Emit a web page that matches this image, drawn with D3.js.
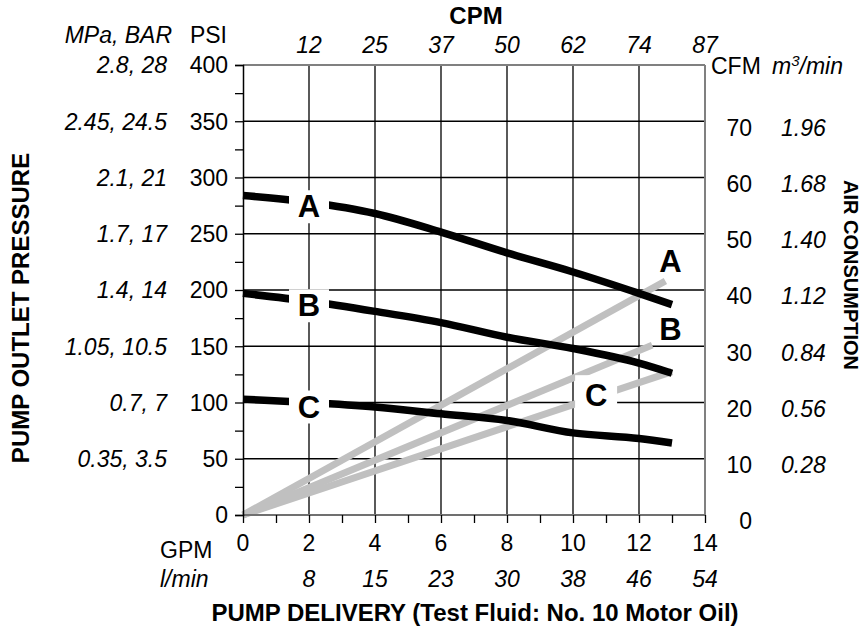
<!DOCTYPE html>
<html>
<head>
<meta charset="utf-8">
<script src="https://cdn.jsdelivr.net/npm/d3@7"></script>
<style>
  html, body { margin: 0; padding: 0; background: #fff; }
  svg { display: block; font-family: "Liberation Sans", Arial, sans-serif; }
</style>
</head>
<body>
<svg id="chart" width="862" height="629"></svg>
<script>
// Pump flow (GPM) sample points for the pressure curves
const flowPoints = [0, 2, 4, 6, 8, 10, 12, 13];
// Pump outlet pressure (PSI) for air inlet settings A, B, C
const pressureA = [284, 278, 268, 251.5, 233, 216, 197, 187];
const pressureB = [197, 190, 181, 171, 158, 148, 135, 126];
const pressureC = [103, 100, 96, 90, 84, 73, 68, 64];
// Air consumption (GPM, CFM) lines for A, B, C
const airA = [[0, 0], [12.8, 41.6]];
const airB = [[0, 0], [12.4, 30.2]];
const airC = [[0, 0], [13.0, 25.5]];
// Where the air-consumption letters sit (GPM, CFM)
const airLabelA = [12.95, 45.2];
const airLabelB = [12.95, 33.1];
const airLabelC = [10.7, 21.3];

// Axis ticks and paired unit labels
const gpmTicks = [0, 2, 4, 6, 8, 10, 12, 14];
const lpmLabels = ["", "8", "15", "23", "30", "38", "46", "54"];
const cpmLabels = ["", "12", "25", "37", "50", "62", "74", "87"];
const psiTicks = [0, 50, 100, 150, 200, 250, 300, 350, 400];
const mpaLabels = ["", "0.35, 3.5", "0.7, 7", "1.05, 10.5", "1.4, 14", "1.7, 17", "2.1, 21", "2.45, 24.5", "2.8, 28"];
const cfmTicks = [0, 10, 20, 30, 40, 50, 60, 70];
const m3Labels = ["", "0.28", "0.56", "0.84", "1.12", "1.40", "1.68", "1.96"];

const svg = d3.select("#chart");
const plotL = 243, plotR = 705, plotT = 65, plotB = 515;

const x = d3.scaleLinear().domain([0, 14]).range([plotL, plotR]);
const y = d3.scaleLinear().domain([0, 400]).range([plotB, plotT]);
const yAir = d3.scaleLinear().domain([0, 80]).range([plotB, plotT]);

const FS = 23;       // tick label size
const TITLE = 24;    // bold axis titles
const LBL = 31;      // curve letters

// Grid
const grid = svg.append("g");
grid.selectAll("line.v").data(gpmTicks.filter(d => d > 0 && d < 14)).join("line")
  .attr("class", "v")
  .attr("x1", d => x(d)).attr("x2", d => x(d))
  .attr("y1", plotT).attr("y2", plotB)
  .attr("stroke", "#000").attr("stroke-width", 1.3);
grid.selectAll("line.h").data(psiTicks.filter(d => d > 0 && d < 400)).join("line")
  .attr("class", "h")
  .attr("x1", plotL).attr("x2", plotR)
  .attr("y1", d => y(d)).attr("y2", d => y(d))
  .attr("stroke", "#000").attr("stroke-width", 1.3);

// Air consumption lines
const airLine = d3.line().x(d => x(d[0])).y(d => yAir(d[1]));
[airA, airB, airC].forEach(s => {
  svg.append("path").datum(s).attr("d", airLine)
    .attr("fill", "none").attr("stroke", "#c0c0c0").attr("stroke-width", 7);
});

// Pressure curves
const pLine = d3.line().x(d => x(d[0])).y(d => y(d[1])).curve(d3.curveMonotoneX);
const curves = [pressureA, pressureB, pressureC].map(vals => flowPoints.map((f, i) => [f, vals[i]]));
curves.forEach(c => {
  svg.append("path").datum(c).attr("d", pLine)
    .attr("fill", "none").attr("stroke", "#000").attr("stroke-width", 7.5);
});

// Letter labels on the pressure curves (at 2 GPM) with white backing
const letters = ["A", "B", "C"];
curves.forEach((c, i) => {
  const cx = x(c[1][0]), cy = y(c[1][1]) + 4;
  svg.append("rect").attr("x", cx - 20).attr("y", cy - 16).attr("width", 40).attr("height", 33).attr("fill", "#fff");
  svg.append("text").attr("x", cx).attr("y", cy).attr("dy", "0.36em")
    .attr("text-anchor", "middle").attr("font-weight", "bold").attr("font-size", LBL).text(letters[i]);
});

// Letter labels on the air consumption lines
[airLabelA, airLabelB, airLabelC].forEach((p, i) => {
  const cx = x(p[0]), cy = yAir(p[1]);
  if (i === 2) {
    svg.append("rect").attr("x", cx - 21).attr("y", cy - 20).attr("width", 42).attr("height", 40).attr("fill", "#fff");
  }
  svg.append("text").attr("x", cx).attr("y", cy).attr("dy", "0.36em")
    .attr("text-anchor", "middle").attr("font-weight", "bold").attr("font-size", LBL).text(letters[i]);
});

// Frame
svg.append("line").attr("x1", plotL).attr("x2", plotR).attr("y1", plotT).attr("y2", plotT).attr("stroke", "#808080").attr("stroke-width", 2);
svg.append("line").attr("x1", plotR).attr("x2", plotR).attr("y1", plotT).attr("y2", plotB).attr("stroke", "#808080").attr("stroke-width", 2);
svg.append("line").attr("x1", plotL).attr("x2", plotR).attr("y1", plotB).attr("y2", plotB).attr("stroke", "#707070").attr("stroke-width", 2);

// Left axis ticks (every 25 PSI)
const leftAxis = d3.axisLeft(y).tickValues(d3.range(0, 401, 25)).tickSize(8).tickFormat("");
svg.append("g").attr("transform", `translate(${plotL},0)`).call(leftAxis)
  .call(g => g.select(".domain").attr("stroke", "#000").attr("stroke-width", 1.5))
  .call(g => g.selectAll(".tick line").attr("stroke", "#000").attr("stroke-width", 1.3));

// Bottom axis ticks (every 1 GPM)
const bottomAxis = d3.axisBottom(x).tickValues(d3.range(0, 15, 1)).tickSize(8).tickFormat("");
svg.append("g").attr("transform", `translate(0,${plotB})`).call(bottomAxis)
  .call(g => g.select(".domain").remove())
  .call(g => g.selectAll(".tick line").attr("stroke", "#000").attr("stroke-width", 1.3));

const txt = (xx, yy, s, opts = {}) => svg.append("text")
  .attr("x", xx).attr("y", yy).attr("dy", "0.36em")
  .attr("text-anchor", opts.anchor || "middle")
  .attr("font-size", opts.size || FS)
  .attr("font-style", opts.italic ? "italic" : null)
  .attr("font-weight", opts.bold ? "bold" : null)
  .attr("transform", opts.rotate ? `rotate(${opts.rotate},${xx},${yy})` : null)
  .text(s);

// Left labels: PSI and MPa/BAR
psiTicks.forEach((v, i) => {
  txt(228, y(v), String(v), { anchor: "end" });
  if (mpaLabels[i]) txt(167, y(v), mpaLabels[i], { anchor: "end", italic: true });
});
txt(172, 35, "MPa, BAR", { anchor: "end", italic: true });
txt(227, 35, "PSI", { anchor: "end" });

// Top labels: CPM
gpmTicks.forEach((v, i) => { if (cpmLabels[i]) txt(x(v), 45, cpmLabels[i], { italic: true }); });
txt(476, 15, "CPM", { bold: true, size: TITLE });

// Bottom labels: GPM and l/min
gpmTicks.forEach((v, i) => {
  txt(x(v), 543, String(v));
  if (lpmLabels[i]) txt(x(v), 579, lpmLabels[i], { italic: true });
});
txt(160, 550, "GPM", { anchor: "start" });
txt(160, 579, "l/min", { anchor: "start", italic: true });
txt(475, 612, "PUMP DELIVERY (Test Fluid: No. 10 Motor Oil)", { bold: true, size: TITLE });

// Right labels: CFM and m3/min
cfmTicks.forEach((v, i) => {
  txt(752, yAir(v) + 6, String(v), { anchor: "end" });
  if (m3Labels[i]) txt(781, yAir(v) + 6, m3Labels[i], { anchor: "start", italic: true });
});
txt(711, 66, "CFM", { anchor: "start" });
const m3 = txt(772, 66, "m", { anchor: "start", italic: true });
m3.append("tspan").attr("baseline-shift", "super").attr("font-size", 15).text("3");
m3.append("tspan").text("/min");

// Axis titles
txt(20, 308, "PUMP OUTLET PRESSURE", { bold: true, size: TITLE, rotate: -90 });
txt(851, 275, "AIR CONSUMPTION", { bold: true, size: 20, rotate: 90 });
</script>
</body>
</html>
